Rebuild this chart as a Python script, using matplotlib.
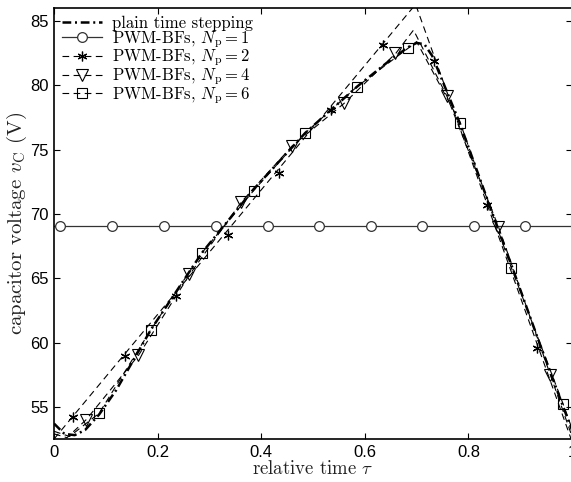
import numpy as np
import matplotlib
matplotlib.use("Agg")
import matplotlib.pyplot as plt

plt.rcParams['mathtext.fontset'] = 'cm'

# plain time stepping (reference curve)
t_plain = [0, 0.02, 0.04, 0.06, 0.087, 0.12, 0.187, 0.286, 0.385, 0.485, 0.585,
           0.65, 0.685, 0.70, 0.715, 0.73, 0.783, 0.835, 0.885, 0.935, 0.983, 1.0]
v_plain = [53.7, 52.9, 52.8, 53.2, 54.4, 56.3, 61.0, 67.0, 71.9, 76.3, 79.9,
           82.0, 83.0, 83.3, 83.2, 82.3, 77.1, 71.3, 65.8, 60.2, 55.0, 53.2]

# Np = 1
t_np1 = [0, 1.0]
v_np1 = [69.1, 69.1]
tm_np1 = [0.0125, 0.1125, 0.2125, 0.3125, 0.4125, 0.5125, 0.6125, 0.711, 0.81, 0.91]
vm_np1 = [69.1] * 10

# Np = 2
t_np2 = [0, 0.698, 1.0]
v_np2 = [52.5, 86.3, 52.3]
tm_np2 = [0.037, 0.137, 0.236, 0.335, 0.435, 0.534, 0.636, 0.733, 0.835, 0.933]
vm_np2 = [54.2, 58.96, 63.6, 68.4, 73.2, 78.1, 83.1, 81.9, 70.7, 59.6]

# Np = 4
t_np4 = [0, 0.025, 0.062, 0.163, 0.262, 0.361, 0.46, 0.56, 0.66, 0.694, 0.758, 0.858, 0.958, 1.0]
v_np4 = [52.9, 52.6, 54.0, 59.0, 65.3, 70.9, 75.3, 78.6, 82.5, 84.3, 79.2, 69.0, 57.5, 52.7]
tm_np4 = [0.062, 0.162, 0.261, 0.361, 0.46, 0.56, 0.659, 0.758, 0.858, 0.958]
vm_np4 = [54.0, 59.0, 65.3, 70.9, 75.3, 78.6, 82.5, 79.2, 69.0, 57.5]

# Np = 6
t_np6 = [0, 0.03, 0.087, 0.187, 0.286, 0.385, 0.485, 0.585, 0.684, 0.70, 0.784, 0.883, 0.983, 1.0]
v_np6 = [53.1, 52.7, 54.5, 61.0, 67.0, 71.8, 76.3, 79.9, 82.9, 83.4, 77.1, 65.8, 55.2, 53.3]
tm_np6 = [0.087, 0.187, 0.286, 0.386, 0.485, 0.585, 0.684, 0.784, 0.883, 0.983]
vm_np6 = [54.5, 61.0, 67.0, 71.8, 76.3, 79.9, 82.9, 77.1, 65.8, 55.2]

labels = ['plain time stepping',
          r'PWM-BFs, $N_\mathrm{p}=1$',
          r'PWM-BFs, $N_\mathrm{p}=2$',
          r'PWM-BFs, $N_\mathrm{p}=4$',
          r'PWM-BFs, $N_\mathrm{p}=6$']

fig = plt.figure(figsize=(5.71, 4.82), dpi=100)
ax = fig.add_axes([0.0946, 0.0892, 0.9072, 0.8938])

dash = [6, 4]
h0, = ax.plot(t_plain, v_plain, color='black', lw=1.8, dashes=[3.5, 1.5, 0.8, 1.5], zorder=5)

l1, = ax.plot(t_np1, v_np1, color='#333333', lw=0.9)
m1, = ax.plot(tm_np1, vm_np1, ls='none', marker='o', ms=7, mfc='white', mec='#333333', mew=0.9)

l2, = ax.plot(t_np2, v_np2, color='black', lw=0.8, dashes=dash)
m2, = ax.plot(tm_np2, vm_np2, ls='none', marker=(6, 2, 0), ms=7, color='black', mew=0.9)

l4, = ax.plot(t_np4, v_np4, color='black', lw=0.8, dashes=dash)
m4, = ax.plot(tm_np4, vm_np4, ls='none', marker='v', ms=8, mfc='none', mec='black', mew=0.8)

l6, = ax.plot(t_np6, v_np6, color='black', lw=0.8, dashes=dash)
m6, = ax.plot(tm_np6, vm_np6, ls='none', marker='s', ms=6.5, mfc='none', mec='black', mew=0.8)

ax.set_xlim(0, 1)
ax.set_ylim(52.5, 86.0)
ax.set_xticks([0, 0.2, 0.4, 0.6, 0.8, 1.0])
ax.set_xticklabels(['0', '0.2', '0.4', '0.6', '0.8', '1'])
ax.set_yticks([55, 60, 65, 70, 75, 80, 85])
ax.tick_params(direction='in', top=True, right=True, length=4, width=0.8,
               labelsize=12, pad=4)
for lab in ax.get_xticklabels() + ax.get_yticklabels():
    lab.set_family('Liberation Sans')
for sp in ax.spines.values():
    sp.set_linewidth(1.2)

ax.set_xlabel(r'relative time $\tau$', family='cmr10', fontsize=13.5, labelpad=0, color='#222222')
ax.set_ylabel(r'capacitor voltage $v_\mathrm{C}$ (V)', family='cmr10', fontsize=15, labelpad=1,
              color='#222222')

leg = ax.legend([h0, (l1, m1), (l2, m2), (l4, m4), (l6, m6)], labels,
                loc='upper left', frameon=False, prop={'family': 'cmr10', 'size': 12},
                handlelength=2.4, handletextpad=0.6, labelspacing=-0.12,
                borderaxespad=0.3, borderpad=0.15)

fig.savefig('out.png', dpi=100)
